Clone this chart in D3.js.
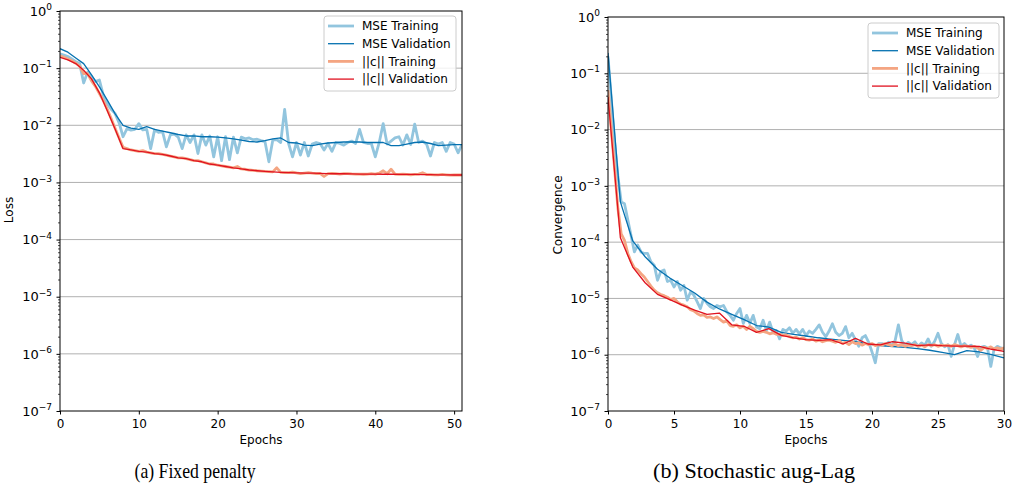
<!DOCTYPE html>
<html>
<head>
<meta charset="utf-8">
<script src="https://cdn.jsdelivr.net/npm/d3@7"></script>
<style>
  body { margin: 0; background: #fff; }
  svg { display: block; font-family: "DejaVu Sans", sans-serif; }
</style>
</head>
<body>
<svg id="chart" width="1013" height="491"></svg>
<script>
// ---- (a) Fixed penalty: training sampled every half epoch, validation every epoch
const leftMseTrain = [
  0.178, 0.17, 0.16, 0.145, 0.13, 0.12, 0.055, 0.085, 0.07, 0.058,
  0.062, 0.033, 0.024, 0.019, 0.016, 0.011, 0.0063, 0.0087, 0.0082, 0.0085,
  0.0107, 0.0083, 0.0085, 0.0039, 0.0083, 0.0075, 0.0078, 0.0042, 0.0068, 0.007,
  0.0062, 0.0039, 0.0068, 0.005, 0.0068, 0.0032, 0.0068, 0.0045, 0.0065, 0.0028,
  0.0063, 0.0024, 0.0063, 0.0025, 0.0062, 0.0033, 0.0062, 0.0058, 0.006, 0.0056,
  0.0057, 0.0054, 0.0052, 0.0023, 0.0055, 0.0056, 0.005, 0.019, 0.0048, 0.0028,
  0.005, 0.003, 0.005, 0.0029, 0.0047, 0.005, 0.0048, 0.0037, 0.0048, 0.0035,
  0.005, 0.0048, 0.0045, 0.005, 0.0053, 0.0048, 0.0085, 0.005, 0.0048, 0.0048,
  0.0028, 0.005, 0.0107, 0.0047, 0.0053, 0.006, 0.0063, 0.0045, 0.0068, 0.0046,
  0.0105, 0.005, 0.0053, 0.0047, 0.0029, 0.005, 0.0047, 0.005, 0.0035, 0.005,
  0.0047, 0.0033, 0.0046
];
const leftMseVal = [
  0.219, 0.19, 0.151, 0.12, 0.076, 0.047, 0.0275, 0.0158, 0.01, 0.0089,
  0.0085, 0.0095, 0.0085, 0.0079, 0.0074, 0.0069, 0.0065, 0.0065, 0.0063, 0.0063,
  0.0062, 0.006, 0.0058, 0.0055, 0.0052, 0.0051, 0.0054, 0.0058, 0.006, 0.005,
  0.0049, 0.0045, 0.0044, 0.0047, 0.0049, 0.005, 0.0051, 0.0051, 0.0051, 0.005,
  0.005, 0.005, 0.0044, 0.0044, 0.0047, 0.005, 0.0051, 0.0048, 0.0044, 0.0045,
  0.0046, 0.0046
];
const leftCTrain = [
  0.165, 0.155, 0.145, 0.135, 0.122, 0.108, 0.08, 0.08, 0.06, 0.048,
  0.036, 0.027, 0.019, 0.013, 0.0088, 0.006, 0.0041, 0.0039, 0.0037, 0.0036,
  0.0035, 0.0036, 0.0034, 0.0033, 0.0032, 0.0032, 0.0031, 0.003, 0.0029, 0.0028,
  0.0027, 0.0027, 0.0026, 0.0025, 0.0024, 0.0024, 0.0023, 0.0022, 0.0021, 0.0021,
  0.002, 0.00195, 0.0019, 0.00185, 0.0018, 0.0019, 0.00172, 0.0017, 0.00165, 0.00163,
  0.0016, 0.00158, 0.00156, 0.00155, 0.00153, 0.0018, 0.0015, 0.00149, 0.00148, 0.00152,
  0.00147, 0.00143, 0.00146, 0.00148, 0.00145, 0.00143, 0.00144, 0.00127, 0.00143, 0.00144,
  0.00142, 0.0014, 0.00142, 0.00143, 0.00141, 0.0014, 0.0014, 0.00139, 0.0014, 0.00142,
  0.0014, 0.00145, 0.0016, 0.00142, 0.0017, 0.0014, 0.00138, 0.0014, 0.00138, 0.00136,
  0.00138, 0.0014, 0.00148, 0.00137, 0.00137, 0.00136, 0.00136, 0.00138, 0.00136, 0.00134,
  0.00135, 0.00136, 0.00135
];
const leftCVal = [
  0.155, 0.14, 0.12, 0.092, 0.065, 0.037, 0.018, 0.0085, 0.0039, 0.0037,
  0.0035, 0.0034, 0.0032, 0.0031, 0.0029, 0.0027, 0.0026, 0.0024, 0.0023, 0.0021,
  0.002, 0.0019, 0.0018, 0.00172, 0.00165, 0.0016, 0.00156, 0.00153, 0.0015, 0.00148,
  0.00147, 0.00146, 0.00145, 0.00144, 0.00143, 0.00142, 0.00142, 0.00141, 0.0014, 0.0014,
  0.0014, 0.00139, 0.00139, 0.00138, 0.00138, 0.00138, 0.00137, 0.00137, 0.00136, 0.00136,
  0.00135, 0.00135
];

// ---- (b) Stochastic aug-Lag: training every quarter epoch, 33 validation points
const rightMseTrain = [
  0.2, 0.035, 6e-3, 1.5e-3,
  5.2e-4, 4.8e-4, 2.5e-4, 1.3e-4,
  6.7e-5, 8.9e-5, 6.7e-5, 6.3e-5,
  6.3e-5, 4.5e-5, 3.9e-5, 2.1e-5,
  3.0e-5, 3.2e-5, 2.0e-5, 2.1e-5,
  1.6e-5, 2.0e-5, 1.4e-5, 1.7e-5,
  9.3e-6, 1.3e-5, 1.15e-5, 8.8e-6,
  6.6e-6, 1.0e-5, 8.2e-6, 7.1e-6,
  6.6e-6, 7.5e-6, 7.1e-6, 7.5e-6,
  5.8e-6, 5.0e-6, 4.1e-6, 5.4e-6,
  6.6e-6, 3.6e-6, 5.0e-6, 3.6e-6,
  5.0e-6, 3.1e-6, 2.9e-6, 4.1e-6,
  2.7e-6, 3.8e-6, 2.5e-6, 2.7e-6,
  1.91e-6, 2.82e-6, 2.63e-6, 3.02e-6,
  2.4e-6, 2.82e-6, 2.34e-6, 2.82e-6,
  2.19e-6, 2.63e-6, 2.4e-6, 2.82e-6,
  3.39e-6, 2.51e-6, 2.09e-6, 2.63e-6,
  3.55e-6, 2.51e-6, 2.19e-6, 2.4e-6,
  3.16e-6, 2.0e-6, 2.4e-6, 1.82e-6,
  1.41e-6, 2.0e-6, 2.19e-6, 1.66e-6,
  1.12e-6, 7.2e-7, 1.58e-6, 1.58e-6,
  1.48e-6, 1.66e-6, 1.45e-6, 1.78e-6,
  3.39e-6, 1.78e-6, 1.45e-6, 1.66e-6,
  1.51e-6, 1.7e-6, 1.41e-6, 1.62e-6,
  1.48e-6, 1.91e-6, 1.41e-6, 1.74e-6,
  2.4e-6, 1.58e-6, 1.38e-6, 1.51e-6,
  9.3e-7, 1.51e-6, 2.29e-6, 1.41e-6,
  1.58e-6, 1.38e-6, 1.48e-6, 1.32e-6,
  9.3e-7, 1.35e-6, 1.41e-6, 1.32e-6,
  6.2e-7, 1.26e-6, 1.41e-6, 1.32e-6,
  1.26e-6
];
const rightMseVal = [
  0.23, 5.2e-4, 1.05e-4, 5.5e-5, 3.3e-5, 2.3e-5, 1.7e-5, 1.25e-5, 8.6e-6, 6.5e-6,
  5.2e-6, 4.2e-6, 3.3e-6, 3.1e-6, 2.5e-6, 2.3e-6, 2.15e-6, 2.0e-6, 1.9e-6, 1.8e-6,
  1.7e-6, 1.55e-6, 1.45e-6, 1.4e-6, 1.35e-6, 1.28e-6, 1.2e-6, 1.1e-6, 1.0e-6, 1.18e-6,
  1.12e-6, 1.0e-6, 8.8e-7
];
const rightCTrain = [
  0.05, 0.01, 2.0e-3, 4.0e-4,
  1.4e-4, 1.07e-4, 6.3e-5, 4.5e-5,
  3.5e-5, 3.2e-5, 2.75e-5, 2.4e-5,
  2.0e-5, 1.66e-5, 1.41e-5, 1.26e-5,
  1.17e-5, 1.12e-5, 1.05e-5, 9.5e-6,
  1.0e-5, 8.7e-6, 7.9e-6, 7.6e-6,
  7.1e-6, 6.3e-6, 6.0e-6, 5.4e-6,
  5.0e-6, 5.1e-6, 4.6e-6, 4.7e-6,
  4.4e-6, 4.7e-6, 4.2e-6, 3.8e-6,
  4.0e-6, 3.3e-6, 3.2e-6, 3.4e-6,
  3.0e-6, 3.2e-6, 2.8e-6, 3.2e-6,
  2.9e-6, 2.6e-6, 2.5e-6, 2.6e-6,
  2.5e-6, 2.35e-6, 2.45e-6, 2.3e-6,
  2.3e-6, 2.2e-6, 2.25e-6, 2.1e-6,
  2.0e-6, 2.05e-6, 1.9e-6, 2.0e-6,
  1.86e-6, 1.82e-6, 1.9e-6, 1.74e-6,
  1.82e-6, 1.7e-6, 1.78e-6, 1.82e-6,
  1.74e-6, 1.66e-6, 1.78e-6, 1.58e-6,
  1.66e-6, 1.51e-6, 1.7e-6, 1.58e-6,
  1.62e-6, 1.48e-6, 1.58e-6, 1.51e-6,
  1.58e-6, 1.45e-6, 1.51e-6, 1.48e-6,
  1.58e-6, 1.51e-6, 1.45e-6, 1.55e-6,
  1.45e-6, 1.51e-6, 1.41e-6, 1.48e-6,
  1.45e-6, 1.51e-6, 1.41e-6, 1.48e-6,
  1.38e-6, 1.51e-6, 1.45e-6, 1.51e-6,
  1.41e-6, 1.48e-6, 1.45e-6, 1.48e-6,
  1.41e-6, 1.51e-6, 1.45e-6, 1.38e-6,
  1.45e-6, 1.41e-6, 1.35e-6, 1.41e-6,
  1.32e-6, 1.2e-6, 1.35e-6, 1.29e-6,
  1.38e-6, 1.26e-6, 1.32e-6, 1.26e-6,
  1.32e-6
];
const rightCVal = [
  0.038, 1.2e-4, 3.6e-5, 1.9e-5, 1.18e-5, 9.5e-6, 7.6e-6, 6.2e-6, 5.2e-6, 5.5e-6,
  3.4e-6, 3.2e-6, 2.5e-6, 2.9e-6, 2.2e-6, 2.0e-6, 1.85e-6, 1.8e-6, 1.85e-6, 1.55e-6,
  1.95e-6, 1.55e-6, 1.5e-6, 1.7e-6, 1.6e-6, 1.45e-6, 1.5e-6, 1.45e-6, 1.42e-6, 1.42e-6,
  1.4e-6, 1.25e-6, 1.15e-6
];

const seriesNames = ['MSE Training', 'MSE Validation', '||c|| Training', '||c|| Validation'];
const leftXTicks = [0, 10, 20, 30, 40, 50];
const rightXTicks = [0, 5, 10, 15, 20, 25, 30];
const yMajorTicks = [1e-7, 1e-6, 1e-5, 1e-4, 1e-3, 1e-2, 1e-1, 1];

const colors = ['#92c5de', '#0571b0', '#f4a582', '#e0121f'];
const widths = [2.8, 1.3, 2.8, 1.3];

const svg = d3.select('#chart');

// minor ticks 2..9 in every decade
const yMinorTicks = [];
for (let k = -7; k < 0; k++) {
  for (let m = 2; m <= 9; m++) yMinorTicks.push(m * Math.pow(10, k));
}

function drawPanel(p) {
  const x = d3.scaleLinear().domain(p.xDomain).range([p.left, p.right]);
  const y = d3.scaleLog().domain([1e-7, 1]).range([p.bottom, p.top]);
  const g = svg.append('g');

  svg.append('clipPath').attr('id', 'clip-' + p.id)
    .append('rect')
    .attr('x', p.left).attr('y', p.top)
    .attr('width', p.right - p.left).attr('height', p.bottom - p.top);

  // horizontal grid
  g.append('g').selectAll('line')
    .data(yMajorTicks.slice(1, -1))
    .join('line')
    .attr('x1', p.left).attr('x2', p.right)
    .attr('y1', d => y(d)).attr('y2', d => y(d))
    .attr('stroke', '#b0b0b0')
    .attr('stroke-width', 1);

  // series
  const line = d3.line().x(d => x(d[0])).y(d => y(d[1]));
  const plot = g.append('g').attr('clip-path', `url(#clip-${p.id})`);
  p.series.forEach((s, i) => {
    plot.append('path')
      .datum(d3.zip(s.x, s.y))
      .attr('d', line)
      .attr('fill', 'none')
      .attr('stroke', colors[i])
      .attr('stroke-width', widths[i])
      .attr('stroke-linejoin', 'round');
  });

  // frame
  g.append('rect')
    .attr('x', p.left).attr('y', p.top)
    .attr('width', p.right - p.left).attr('height', p.bottom - p.top)
    .attr('fill', 'none').attr('stroke', '#000').attr('stroke-width', 1);

  // x axis
  const xAxis = g.append('g')
    .attr('transform', `translate(0,${p.bottom})`)
    .call(d3.axisBottom(x).tickValues(p.xTicks).tickSize(3.5).tickPadding(5));
  xAxis.select('.domain').remove();
  xAxis.selectAll('text').attr('font-size', 12).attr('font-family', '"DejaVu Sans", sans-serif').attr('fill', '#000');
  xAxis.selectAll('line').attr('stroke', '#000');

  // y axis: major and minor ticks
  const yAxis = g.append('g')
    .attr('transform', `translate(${p.left},0)`)
    .call(d3.axisLeft(y).tickValues(yMajorTicks).tickSize(3.5).tickFormat(''));
  yAxis.select('.domain').remove();
  yAxis.selectAll('line').attr('stroke', '#000');
  const yMinor = g.append('g')
    .attr('transform', `translate(${p.left},0)`)
    .call(d3.axisLeft(y).tickValues(yMinorTicks).tickSize(2).tickFormat(''));
  yMinor.select('.domain').remove();
  yMinor.selectAll('line').attr('stroke', '#000').attr('stroke-width', 0.7);

  // y tick labels 10^k
  g.append('g').selectAll('text')
    .data(yMajorTicks)
    .join('text')
    .attr('x', p.left - 8)
    .attr('y', d => y(d))
    .attr('dy', '0.36em')
    .attr('text-anchor', 'end')
    .attr('font-size', 13)
    .each(function (d) {
      const e = Math.round(Math.log10(d));
      const t = d3.select(this);
      t.append('tspan').text('10');
      t.append('tspan').attr('dy', '-0.62em').attr('font-size', 9)
        .text(e === 0 ? '0' : '\u2212' + (-e));
    });

  // axis titles
  g.append('text')
    .attr('x', (p.left + p.right) / 2).attr('y', p.bottom + 33)
    .attr('text-anchor', 'middle').attr('font-size', 12)
    .text('Epochs');
  g.append('text')
    .attr('transform', `translate(${p.yLabelX},${p.yLabelY}) rotate(-90)`)
    .attr('text-anchor', 'middle').attr('font-size', 12)
    .text(p.yLabel);

  // legend
  const lg = g.append('g').attr('transform', `translate(${p.legend[0]},${p.legend[1]})`);
  lg.append('rect')
    .attr('width', p.legend[2]).attr('height', 75)
    .attr('rx', 3)
    .attr('fill', '#fff').attr('fill-opacity', 0.8)
    .attr('stroke', '#cccccc').attr('stroke-width', 1);
  seriesNames.forEach((name, i) => {
    const ry = 10 + i * 17.7;
    lg.append('line')
      .attr('x1', 4).attr('x2', 30).attr('y1', ry).attr('y2', ry)
      .attr('stroke', colors[i]).attr('stroke-width', widths[i]);
    lg.append('text')
      .attr('x', 38).attr('y', ry).attr('dy', '0.36em')
      .attr('font-size', 12)
      .text(name);
  });

  // caption
  svg.append('text')
    .attr('x', p.captionX).attr('y', 478)
    .attr('text-anchor', 'middle')
    .attr('font-family', '"Liberation Serif", serif')
    .attr('font-size', 22)
    .attr('textLength', p.captionWidth)
    .attr('lengthAdjust', 'spacingAndGlyphs')
    .text(p.caption);
}

const leftTrainEpochs = d3.range(leftMseTrain.length).map(i => i * 0.5);
const leftValEpochs = d3.range(leftMseVal.length);
const rightTrainEpochs = d3.range(rightMseTrain.length).map(i => i * 0.25);
const rightValEpochs = d3.range(rightMseVal.length).map(i => i * 30 / 32);

drawPanel({
  id: 'a', left: 60, right: 462, top: 11, bottom: 411,
  xDomain: [0, 51], xTicks: leftXTicks,
  yLabel: 'Loss', yLabelX: 13, yLabelY: 210,
  legend: [324, 16, 132],
  caption: '(a) Fixed penalty', captionX: 195, captionWidth: 121,
  series: [
    { x: leftTrainEpochs, y: leftMseTrain },
    { x: leftValEpochs, y: leftMseVal },
    { x: leftTrainEpochs, y: leftCTrain },
    { x: leftValEpochs, y: leftCVal }
  ]
});

drawPanel({
  id: 'b', left: 608, right: 1004, top: 17, bottom: 411,
  xDomain: [0, 30], xTicks: rightXTicks,
  yLabel: 'Convergence', yLabelX: 562, yLabelY: 215,
  legend: [868, 23, 131],
  caption: '(b) Stochastic aug-Lag', captionX: 754, captionWidth: 202,
  series: [
    { x: rightTrainEpochs, y: rightMseTrain },
    { x: rightValEpochs, y: rightMseVal },
    { x: rightTrainEpochs, y: rightCTrain },
    { x: rightValEpochs, y: rightCVal }
  ]
});
</script>
</body>
</html>
